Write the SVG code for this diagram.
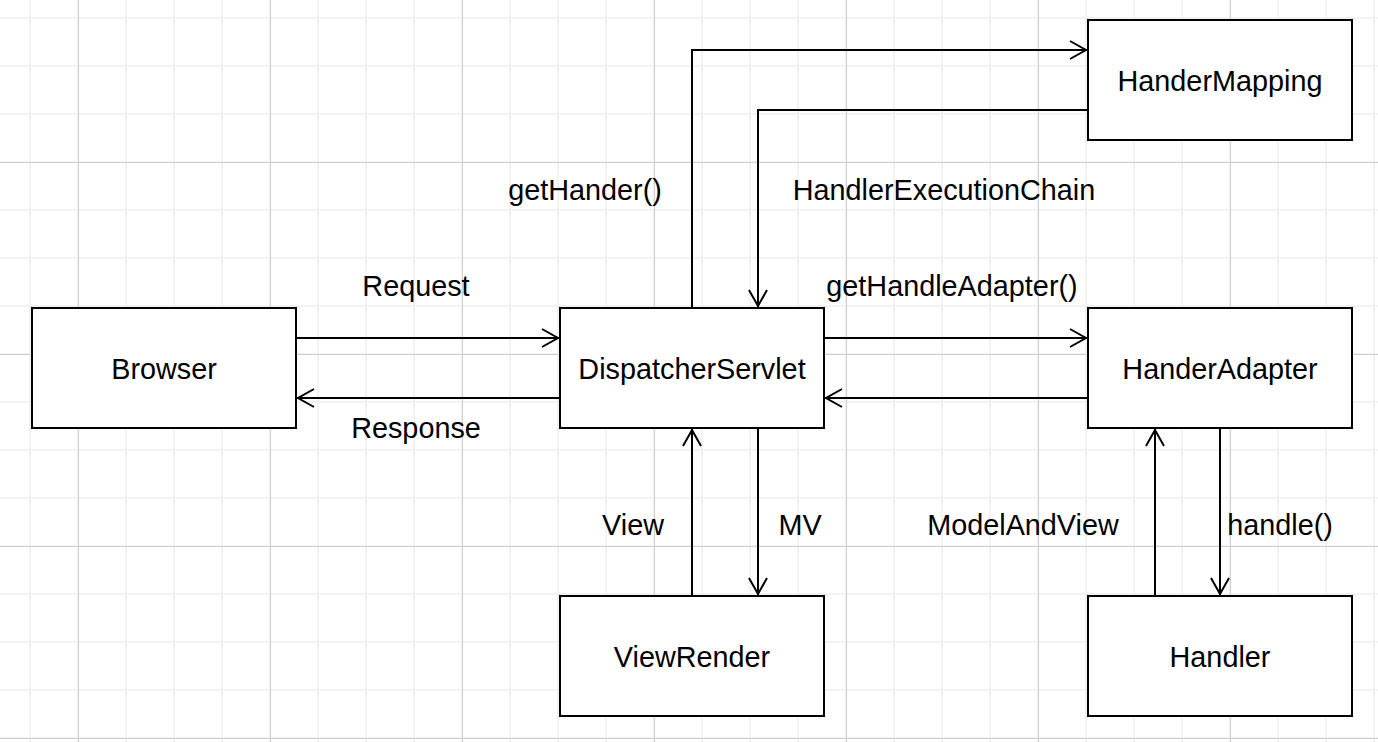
<svg xmlns="http://www.w3.org/2000/svg" width="1378" height="742" viewBox="0 0 1378 742">
  <style>
    .box { fill: #ffffff; stroke: #000000; stroke-width: 2; }
    .lbl { font-family: "Liberation Sans", Arial, Helvetica, sans-serif; font-size: 28.8px; fill: #000000; text-anchor: middle; }
    .edge { fill: none; stroke: #000000; stroke-width: 2; marker-end: url(#arrow); }
  </style>
  <defs>
    <pattern id="minor" patternUnits="userSpaceOnUse" x="0" y="0" width="48" height="48">
      <path d="M30 0V48M0 18H48" stroke="#f2f2f2" stroke-width="2" fill="none"/>
    </pattern>
    <pattern id="major" patternUnits="userSpaceOnUse" x="0" y="0" width="192" height="192">
      <path d="M78.5 0V192M0 162.5H192" stroke="#cfcfcf" stroke-width="1" fill="none"/>
    </pattern>
    <marker id="arrow" markerUnits="userSpaceOnUse" viewBox="-20 -12 24 24" markerWidth="24" markerHeight="24" refX="0" refY="0" orient="auto">
      <path d="M-17,-9 L-1,0 L-17,9" fill="none" stroke="#000000" stroke-width="2"/>
    </marker>
  </defs>
  <rect width="1378" height="742" fill="#ffffff"/>
  <rect width="1378" height="742" fill="url(#minor)"/>
  <rect width="1378" height="742" fill="url(#major)"/>

  <g id="connectors">
    <path class="edge" d="M692 307 V50 H1087"/>
    <path class="edge" d="M1087 110 H758 V307"/>
    <path class="edge" d="M297 338 H559"/>
    <path class="edge" d="M559 398 H297"/>
    <path class="edge" d="M825 338 H1087"/>
    <path class="edge" d="M1087 398 H825"/>
    <path class="edge" d="M692 595 V429"/>
    <path class="edge" d="M758 429 V595"/>
    <path class="edge" d="M1155 595 V429"/>
    <path class="edge" d="M1220 429 V595"/>
    <text class="lbl" x="416" y="296">Request</text>
    <text class="lbl" x="416" y="438">Response</text>
    <text class="lbl" x="585" y="200">getHander()</text>
    <text class="lbl" x="944" y="200">HandlerExecutionChain</text>
    <text class="lbl" x="952" y="296">getHandleAdapter()</text>
    <text class="lbl" x="633" y="535">View</text>
    <text class="lbl" x="800" y="535">MV</text>
    <text class="lbl" x="1023" y="535">ModelAndView</text>
    <text class="lbl" x="1280" y="535">handle()</text>
  </g>

  <g id="browser">
    <rect class="box" x="32" y="308" width="264" height="120"/>
    <text class="lbl" x="164" y="379">Browser</text>
  </g>
  <g id="dispatcherservlet">
    <rect class="box" x="560" y="308" width="264" height="120"/>
    <text class="lbl" x="692" y="379">DispatcherServlet</text>
  </g>
  <g id="handermapping">
    <rect class="box" x="1088" y="20" width="264" height="120"/>
    <text class="lbl" x="1220" y="91">HanderMapping</text>
  </g>
  <g id="handeradapter">
    <rect class="box" x="1088" y="308" width="264" height="120"/>
    <text class="lbl" x="1220" y="379">HanderAdapter</text>
  </g>
  <g id="viewrender">
    <rect class="box" x="560" y="596" width="264" height="120"/>
    <text class="lbl" x="692" y="667">ViewRender</text>
  </g>
  <g id="handler">
    <rect class="box" x="1088" y="596" width="264" height="120"/>
    <text class="lbl" x="1220" y="667">Handler</text>
  </g>
</svg>
